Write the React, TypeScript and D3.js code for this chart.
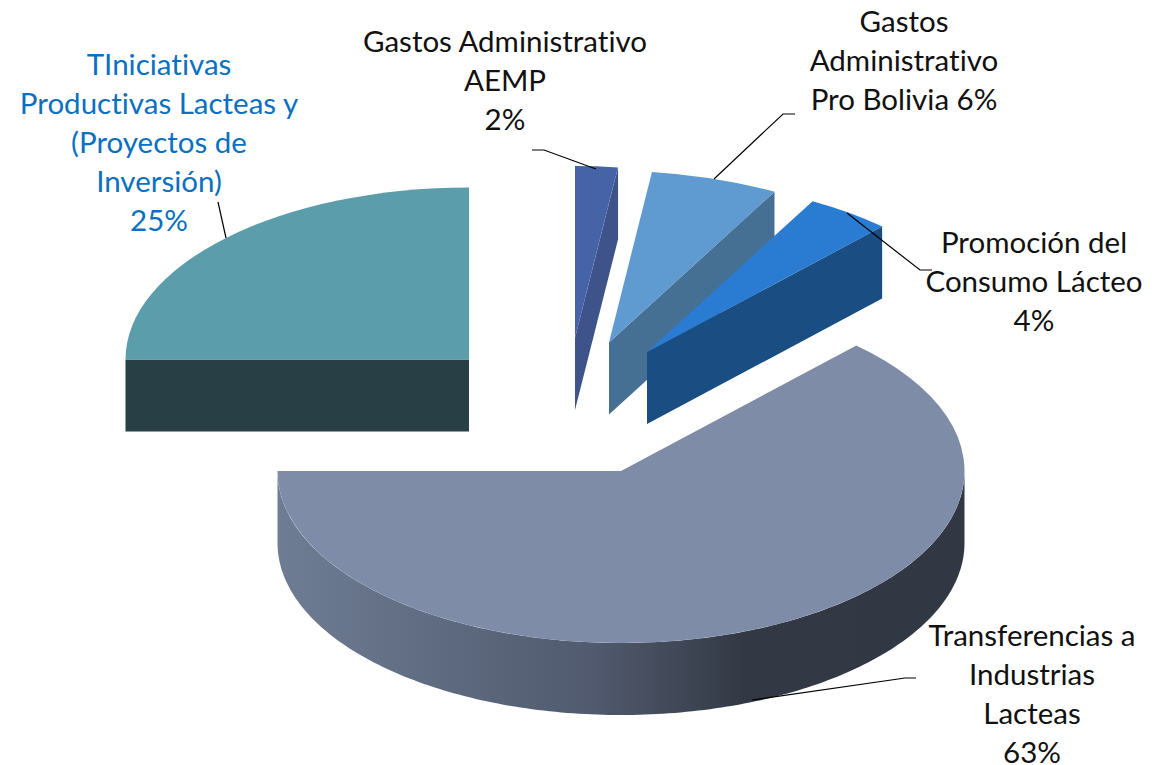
import React from "react";
import * as d3 from "d3";

const categories = [
  "Gastos Administrativo AEMP",
  "Gastos Administrativo Pro Bolivia",
  "Promoción del Consumo Lácteo",
  "Transferencias a Industrias Lacteas",
  "TIniciativas Productivas Lacteas y (Proyectos de Inversión)",
];
const seriesValues = [2, 6, 4, 63, 25];
const topColors = ["#4763a7", "#5f9ad0", "#2a7cd3", "#7f8ca8", "#5b9daa"];
const wallColors = ["#3d5389", "#456f93", "#1a4d81", "url(#bigWall)", "#273f45"];
const sliceCenters: [number, number][] = [
  [575, 338],
  [609, 342.5],
  [647, 352],
  [621, 471],
  [469, 359.5],
];
const labelLines = [
  { lines: ["Gastos Administrativo", "AEMP", "2%"], x: 505, y: 52, fill: "#111" },
  { lines: ["Gastos", "Administrativo", "Pro Bolivia 6%"], x: 904, y: 32, fill: "#111" },
  { lines: ["Promoción del", "Consumo Lácteo", "4%"], x: 1034, y: 253, fill: "#111" },
  { lines: ["Transferencias a", "Industrias", "Lacteas", "63%"], x: 1032, y: 646, fill: "#111" },
  {
    lines: ["TIniciativas", "Productivas Lacteas y", "(Proyectos de", "Inversión)", "25%"],
    x: 159,
    y: 75,
    fill: "#0a70c0",
  },
];
const leaders: [number, number][][] = [
  [[532, 150], [544, 150], [596, 169]],
  [[795, 114], [783, 114], [714, 179]],
  [[847, 213], [920, 270], [932, 270]],
  [[752, 700], [905, 678], [916, 678]],
  [[218, 202], [226, 238]],
];
const gradientStops: [number, string][] = [
  [0, "#6f7d94"],
  [0.18, "#626f85"],
  [0.46, "#515a6e"],
  [0.68, "#333944"],
  [1, "#323843"],
];

const RX = 343.5;
const RY = 172;
const DEPTH = 72;
const LINE = 39;

const pie = d3.pie<number>().sort(null).startAngle(0).endAngle(2 * Math.PI);
const arcs = pie(seriesValues);
const unitArc = d3.arc<d3.PieArcDatum<number>>().innerRadius(0).outerRadius(1);
const lineGen = d3.line<[number, number]>();

const px = (i: number, a: number): [number, number] => [
  sliceCenters[i][0] + RX * Math.sin(a),
  sliceCenters[i][1] - RY * Math.cos(a),
];

// Visible side surface of a slice: the outer rim facing the viewer and the radial cut faces.
function wallPath(i: number): string {
  const { startAngle: s, endAngle: e } = arcs[i];
  const [cx, cy] = sliceCenters[i];
  const parts: string[] = [];
  const a0 = Math.max(s, Math.PI / 2);
  const a1 = Math.min(e, (3 * Math.PI) / 2);
  if (a1 > a0) {
    const top = d3.range(0, 181).map((k) => px(i, a0 + ((a1 - a0) * k) / 180));
    const bottom = top.map(([x, y]) => [x, y + DEPTH] as [number, number]).reverse();
    parts.push(lineGen([...top, ...bottom])! + "Z");
  }
  if (e <= Math.PI) {
    const p = px(i, e);
    parts.push(
      lineGen([[cx, cy], p, [p[0], p[1] + DEPTH], [cx, cy + DEPTH]])! + "Z"
    );
  }
  if (s >= Math.PI) {
    const p = px(i, s);
    parts.push(
      lineGen([[cx, cy], p, [p[0], p[1] + DEPTH], [cx, cy + DEPTH]])! + "Z"
    );
  }
  return parts.join("");
}

export default function App() {
  const big = sliceCenters[3][0];
  return (
    <svg
      width={1168}
      height={765}
      viewBox="0 0 1168 765"
      style={{ position: "absolute", left: 0, top: 0, background: "#fff" }}
      aria-label={categories.join(", ")}
    >
      <defs>
        <linearGradient
          id="bigWall"
          gradientUnits="userSpaceOnUse"
          x1={big - RX}
          x2={big + RX}
          y1={0}
          y2={0}
        >
          {gradientStops.map(([o, c]) => (
            <stop key={o} offset={o} stopColor={c} />
          ))}
        </linearGradient>
      </defs>
      {arcs.map((a, i) => (
        <g key={categories[i]}>
          <path d={wallPath(i)} fill={wallColors[i]} />
          <path
            d={unitArc(a)!}
            fill={topColors[i]}
            transform={`translate(${sliceCenters[i][0]},${sliceCenters[i][1]}) scale(${RX},${RY})`}
          />
        </g>
      ))}
      {leaders.map((l, i) => (
        <path key={i} d={lineGen(l)!} fill="none" stroke="#000" strokeWidth={1.2} />
      ))}
      {labelLines.map((l) => (
        <text
          key={l.lines[0] + l.x}
          textAnchor="middle"
          fontFamily="Lato, 'Open Sans', sans-serif"
          fontSize={29.5}
          fill={l.fill}
          style={{ fontVariantLigatures: "none" }}
        >
          {l.lines.map((t, j) => (
            <tspan key={j} x={l.x} y={l.y + j * LINE}>
              {t}
            </tspan>
          ))}
        </text>
      ))}
    </svg>
  );
}
